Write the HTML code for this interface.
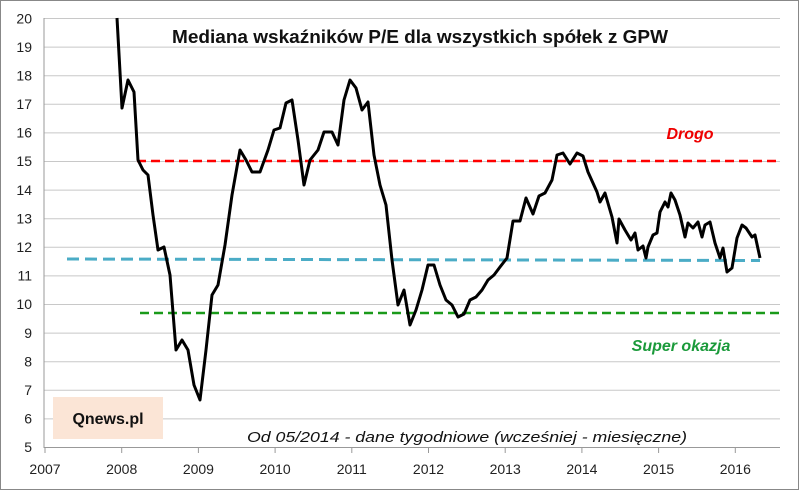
<!DOCTYPE html>
<html><head><meta charset="utf-8"><style>body{margin:0;background:#fff}svg{display:block}</style></head><body>
<svg width="800" height="491" xmlns="http://www.w3.org/2000/svg" font-family="Liberation Sans, sans-serif">
<rect x="0.5" y="0.5" width="798" height="489" fill="#fff" stroke="#888"/>
<g stroke="#c8c8c8" stroke-width="1">
<line x1="44" x2="780" y1="18.5" y2="18.5"/><line x1="44" x2="780" y1="47.1" y2="47.1"/><line x1="44" x2="780" y1="75.7" y2="75.7"/><line x1="44" x2="780" y1="104.3" y2="104.3"/><line x1="44" x2="780" y1="132.9" y2="132.9"/><line x1="44" x2="780" y1="161.5" y2="161.5"/><line x1="44" x2="780" y1="190.1" y2="190.1"/><line x1="44" x2="780" y1="218.7" y2="218.7"/><line x1="44" x2="780" y1="247.3" y2="247.3"/><line x1="44" x2="780" y1="275.9" y2="275.9"/><line x1="44" x2="780" y1="304.5" y2="304.5"/><line x1="44" x2="780" y1="333.1" y2="333.1"/><line x1="44" x2="780" y1="361.7" y2="361.7"/><line x1="44" x2="780" y1="390.3" y2="390.3"/><line x1="44" x2="780" y1="418.9" y2="418.9"/>
</g>
<g stroke="#999"><line x1="44" x2="780" y1="447.5" y2="447.5"/><line x1="44" x2="44" y1="18" y2="448"/>
<line x1="45" x2="45" y1="448" y2="453"/><line x1="121.7" x2="121.7" y1="448" y2="453"/><line x1="198.4" x2="198.4" y1="448" y2="453"/><line x1="275.1" x2="275.1" y1="448" y2="453"/><line x1="351.8" x2="351.8" y1="448" y2="453"/><line x1="428.5" x2="428.5" y1="448" y2="453"/><line x1="505.2" x2="505.2" y1="448" y2="453"/><line x1="581.9" x2="581.9" y1="448" y2="453"/><line x1="658.6" x2="658.6" y1="448" y2="453"/><line x1="735.3" x2="735.3" y1="448" y2="453"/>
</g>
<g font-size="14" fill="#222" text-anchor="end">
<text x="32" y="23.5">20</text><text x="32" y="52">19</text><text x="32" y="80.5">18</text><text x="32" y="109">17</text><text x="32" y="137.5">16</text><text x="32" y="166">15</text><text x="32" y="195">14</text><text x="32" y="223.5">13</text><text x="32" y="252">12</text><text x="32" y="280.5">11</text><text x="32" y="309">10</text><text x="32" y="338">9</text><text x="32" y="366.5">8</text><text x="32" y="395">7</text><text x="32" y="423.5">6</text><text x="32" y="452">5</text>
</g>
<g font-size="14" fill="#222" text-anchor="middle">
<text x="45" y="474">2007</text><text x="121.7" y="474">2008</text><text x="198.4" y="474">2009</text><text x="275.1" y="474">2010</text><text x="351.8" y="474">2011</text><text x="428.5" y="474">2012</text><text x="505.2" y="474">2013</text><text x="581.9" y="474">2014</text><text x="658.6" y="474">2015</text><text x="735.3" y="474">2016</text>
</g>
<rect x="53" y="397" width="110" height="42" fill="#fbe5d6"/>
<text x="108" y="424" font-size="16" font-weight="bold" text-anchor="middle" fill="#111">Qnews.pl</text>
<text x="172" y="43" font-size="18" font-weight="bold" fill="#111" textLength="496" lengthAdjust="spacingAndGlyphs">Mediana wskaźników P/E dla wszystkich spółek z GPW</text>
<text x="247" y="442" font-size="15" font-style="italic" fill="#111" textLength="440" lengthAdjust="spacingAndGlyphs">Od 05/2014 - dane tygodniowe (wcześniej - miesięczne)</text>
<text x="690" y="139" font-size="16" font-weight="bold" font-style="italic" text-anchor="middle" fill="#e00">Drogo</text>
<text x="681" y="351" font-size="16" font-weight="bold" font-style="italic" text-anchor="middle" fill="#1a9a3a">Super okazja</text>
<line x1="137" x2="780" y1="161" y2="161" stroke="#f00" stroke-width="2.5" stroke-dasharray="9,5"/>
<line x1="67" x2="760" y1="259" y2="260.5" stroke="#4bacc6" stroke-width="3" stroke-dasharray="12,6"/>
<line x1="140" x2="782" y1="313" y2="313" stroke="#1a9a1a" stroke-width="2.5" stroke-dasharray="9,5"/>
<polyline fill="none" stroke="#000" stroke-width="3" stroke-linejoin="round" points="117,18 122,108 128,80 134,92 138,160 143,170 148,175 153,215 158,250 164,247 170,275 176,350 182,340 188,350 194,385 200,400 206,350 212,295 218,285 225,245 232,195 240,150 246,160 252,172 260,172 268,150 274,130 280,128 286,103 292,100 298,140 304,185 310,160 318,150 324,132 332,132 338,145 344,100 350,80 356,88 362,110 368,102 374,155 380,185 386,205 392,260 398,305 404,290 410,325 416,310 422,290 428,265 434,265 440,285 446,300 452,305 458,317 464,314 470,300 476,297 482,290 488,280 494,275 500,267 507,258 513,221 520,221 526,198 533,214 539,196 545,193 552,180 557,155 563,153 570,164 577,153 583,156 588,172 597,192 600,202 605,193 612,217 617,243 619,219 625,230 631,240 635,233 638,250 643,246 646,258 648,247 653,235 657,233 660,212 665,202 668,207 671,193 675,200 680,215 685,237 688,223 693,228 698,222 702,237 705,225 710,222 715,243 720,258 723,248 727,272 732,268 737,238 742,225 746,228 752,237 755,235 760,258"/>
</svg>
</body></html>
